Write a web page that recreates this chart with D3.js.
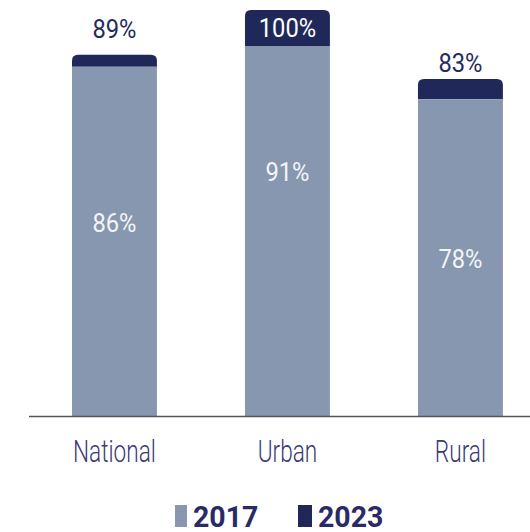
<!DOCTYPE html>
<html>
<head>
<meta charset="utf-8">
<script src="https://cdn.jsdelivr.net/npm/d3@7"></script>
<style>
  html, body { margin: 0; padding: 0; background: #fff; }
  svg { display: block; }
  text { font-family: Roboto, "Noto Sans", sans-serif; }
</style>
</head>
<body>
<svg id="chart" width="530" height="532"></svg>
<script>
// ---- data ----
const categories = ["National", "Urban", "Rural"];
const values2017 = [86, 91, 78];
const values2023 = [89, 100, 83];
const seriesNames = ["2017", "2023"];

// ---- layout (not data): label baselines, in value units ----
const innerLabelAt = [45.3, 57.9, 36.5];
const topLabelAt = [93.1, 93.3, 84.7];

const colLight = "#8797af";
const colDark = "#1f2859";
const textCol = "#252b5e";
const catCol = "#3b3a78";

const svg = d3.select("#chart");

const x = d3.scaleBand()
  .domain(categories)
  .range([2.8, 572.1])
  .paddingInner(0.509)
  .paddingOuter(0.4);

const y = d3.scaleLinear().domain([0, 100]).range([416, 10]);

const bw = x.bandwidth();
const r = 6;

const g = svg.append("g");

function label(parent, cx, by, txt, size, fill, squeeze, weight) {
  parent.append("text")
    .attr("transform", `translate(${cx},${by}) scale(${squeeze},1)`)
    .attr("text-anchor", "middle")
    .attr("font-size", size)
    .attr("font-weight", weight || "normal")
    .attr("fill", fill)
    .text(txt);
}

categories.forEach((c, i) => {
  const x0 = x(c);
  const yTop = y(values2023[i]);
  const yMid = y(values2017[i]);
  const yBot = y(0);
  const p = `M${x0},${yMid} L${x0},${yTop + r} Q${x0},${yTop} ${x0 + r},${yTop} L${x0 + bw - r},${yTop} Q${x0 + bw},${yTop} ${x0 + bw},${yTop + r} L${x0 + bw},${yMid} Z`;
  g.append("path").attr("d", p).attr("fill", colDark);
  g.append("rect")
    .attr("x", x0).attr("y", yMid)
    .attr("width", bw).attr("height", yBot - yMid)
    .attr("fill", colLight);
  label(g, x0 + bw / 2, y(innerLabelAt[i]), values2017[i] + "%", 25, "#f3f4f8", 0.95);
  const inside = values2023[i] >= 100;
  label(g, x0 + bw / 2, y(topLabelAt[i]), values2023[i] + "%", 25, inside ? "#ffffff" : textCol, 0.95);
});

// axis
const axis = svg.append("g")
  .attr("transform", `translate(0,${y(0)})`)
  .call(d3.axisBottom(x).tickSize(0).tickFormat(""));
axis.select(".domain").attr("d", `M29,0.5H530`).attr("stroke", "#555").attr("stroke-width", 1.3);
axis.selectAll(".tick").each(function(d) {
  label(d3.select(this), 0, 46, d, 31, catCol, 0.73, 300);
});

// legend
const legend = svg.append("g");
const legendItems = [
  { name: seriesNames[0], color: colLight, x: 175, w: 12 },
  { name: seriesNames[1], color: colDark, x: 298, w: 14 }
];
legendItems.forEach(d => {
  legend.append("text")
    .attr("transform", `translate(${d.x + d.w + 6},526.5) scale(0.95,1)`)
    .attr("font-size", 30)
    .attr("font-weight", "bold")
    .attr("fill", "#2a2a66")
    .text(d.name);
  legend.append("rect")
    .attr("x", d.x).attr("y", 505)
    .attr("width", d.w).attr("height", 22)
    .attr("fill", d.color);
});
</script>
</body>
</html>
